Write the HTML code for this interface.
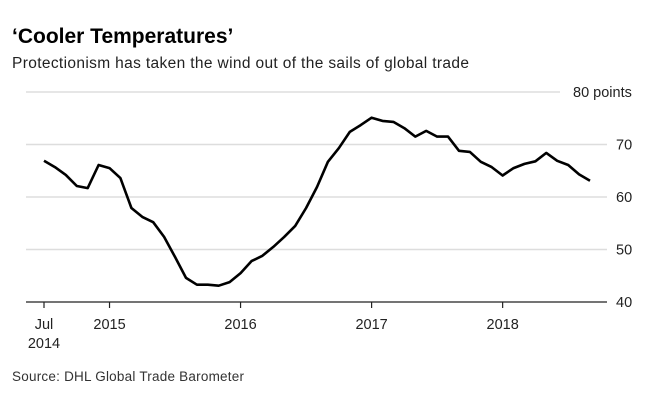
<!DOCTYPE html>
<html><head><meta charset="utf-8"><style>
body{margin:0;background:#fff;width:669px;height:402px;overflow:hidden;font-family:"Liberation Sans",sans-serif;}
</style></head><body>
<svg width="669" height="402" xmlns="http://www.w3.org/2000/svg">
<text x="12" y="43" font-size="21" font-weight="bold" fill="#000">‘Cooler Temperatures’</text>
<text x="12" y="68" font-size="15.5" fill="#222" textLength="457">Protectionism has taken the wind out of the sails of global trade</text>
<g id="grid"></g>
<g id="yl"></g>
<g id="xa"></g>
<path id="line" fill="none" stroke="#000" stroke-width="2.6" stroke-linejoin="round"/>
<text x="12" y="381" font-size="13.5" fill="#333" textLength="232">Source: DHL Global Trade Barometer</text>
</svg>
<script>
const values=[66.9,65.7,64.2,62.1,61.7,66.1,65.5,63.6,57.9,56.2,55.2,52.4,48.6,44.6,43.3,43.3,43.1,43.8,45.5,47.8,48.8,50.5,52.4,54.5,57.9,61.9,66.7,69.3,72.4,73.7,75.1,74.5,74.3,73.1,71.5,72.6,71.5,71.5,68.8,68.6,66.7,65.7,64.1,65.5,66.3,66.8,68.4,66.9,66.1,64.3,63.1];
const yTicks=[40,50,60,70,80];
const xTickMonths=[0,6,18,30,42];
const xTickLabels=[["Jul","2014"],["2015"],["2016"],["2017"],["2018"]];
const ns="http://www.w3.org/2000/svg";
const x=m=>44+m*10.92;
const y=v=>302-(v-40)*5.25;
function mk(t,a,p){const e=document.createElementNS(ns,t);for(const k in a)e.setAttribute(k,a[k]);p.appendChild(e);return e;}
const grid=document.getElementById('grid'),yl=document.getElementById('yl'),xa=document.getElementById('xa');
yTicks.forEach(v=>{
  const l=mk('line',{x1:26,x2:v===80?560:607,y1:y(v),y2:y(v),stroke:v===40?'#222':'#ddd','stroke-width':v===40?1.2:1.5},v===40?xa:grid);
  
  
  const t=mk('text',{x:v===80?573:616,y:y(v)+5,'font-size':14.5,fill:'#222'},yl);
  t.textContent=v===80?'80 points':v;
  
  
});
xTickMonths.forEach((m,i)=>{
  const tk=mk('line',{x1:x(m),x2:x(m),y1:302,y2:308,stroke:'#222','stroke-width':1.2},xa);
  
  
  xTickLabels[i].forEach((s,j)=>{
    const t=mk('text',{x:x(m),y:329+j*19,'font-size':14.5,fill:'#222','text-anchor':'middle'},xa);
    t.textContent=s;
    
    
  });
});
document.getElementById('line').setAttribute('d',values.map((v,i)=>(i?'L':'M')+x(i).toFixed(1)+','+y(v).toFixed(1)).join(''));
</script>
</body></html>
